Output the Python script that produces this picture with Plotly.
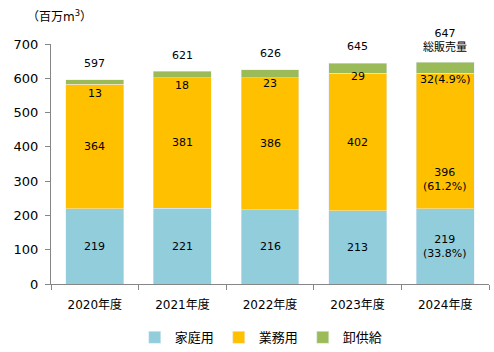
import plotly.graph_objects as go

years = ["2020年度", "2021年度", "2022年度", "2023年度", "2024年度"]
household = [219, 221, 216, 213, 219]
commercial = [364, 381, 386, 402, 396]
wholesale = [13, 18, 23, 29, 32]
totals = [597, 621, 626, 645, 647]
household_lbl = ["219", "221", "216", "213", "219<br>(33.8%)"]
commercial_lbl = ["364", "381", "386", "402", "396<br>(61.2%)"]
wholesale_lbl = ["13", "18", "23", "29", "32(4.9%)"]
total_lbl = ["597", "621", "626", "645", "647<br>総販売量"]

FONT = "DejaVu Sans, Noto Sans CJK JP, sans-serif"
C_BLUE = "#92CDDC"
C_YEL = "#FFC000"
C_GRN = "#9BBB59"

fig = go.Figure()
fig.add_bar(x=years, y=household, name="家庭用", marker_color=C_BLUE)
fig.add_bar(x=years, y=commercial, name="業務用", marker_color=C_YEL)
fig.add_bar(x=years, y=wholesale, name="卸供給", marker_color=C_GRN)

ann = []
for i, yr in enumerate(years):
    ann.append(dict(x=yr, y=household[i] / 2, text=household_lbl[i], showarrow=False,
                    font=dict(size=11, color="#000")))
    cy = household[i] + commercial[i] / 2
    ys = -38 if i == 4 else 0
    ann.append(dict(x=yr, y=cy, yshift=ys, text=commercial_lbl[i], showarrow=False,
                    font=dict(size=11, color="#000")))
    ann.append(dict(x=yr, y=totals[i], yshift=-14 if i < 4 else -17, text=wholesale_lbl[i],
                    showarrow=False, font=dict(size=11, color="#000")))
    ann.append(dict(x=yr, y=totals[i], yshift=16 if i < 4 else 22, text=total_lbl[i],
                    showarrow=False, font=dict(size=11, color="#000")))

ann.append(dict(xref="paper", yref="paper", x=-0.06, y=1.075, xanchor="left", yanchor="bottom",
                text="（百万m<sup>3</sup>）", showarrow=False, font=dict(size=12, color="#000")))

fig.update_layout(
    width=494, height=352,
    margin=dict(l=51, r=5, t=44, b=68, autoexpand=False),
    barmode="stack", bargap=0.34,
    plot_bgcolor="white", paper_bgcolor="white",
    font=dict(family=FONT, size=12, color="#000"),
    showlegend=True,
    legend=dict(orientation="h", x=0.48, xanchor="center", y=-0.16, yanchor="top",
                font=dict(size=13), itemwidth=30, traceorder="normal"),
    annotations=ann,
    xaxis=dict(showline=True, linecolor="#868686", linewidth=1, ticks="outside",
               tickson="boundaries", ticklen=5, tickcolor="#868686", automargin=False,
               tickfont=dict(size=12), showgrid=False, ticklabelstandoff=10),
    yaxis=dict(range=[0, 700], dtick=100, showline=True, linecolor="#868686", linewidth=1,
               ticks="outside", ticklen=5, tickcolor="#868686", showgrid=False, automargin=False,
               zeroline=False, tickfont=dict(size=13), ticklabelstandoff=4),
)

fig.write_html("out.html")
